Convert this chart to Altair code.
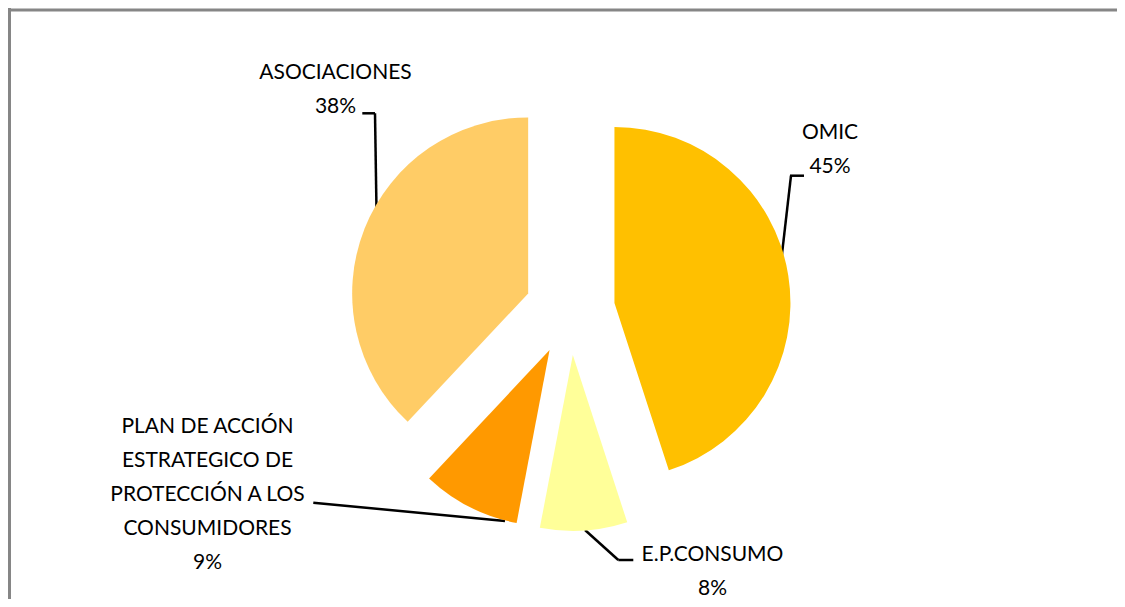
import altair as alt
import pandas as pd

# ---- data ----
categories = ["OMIC", "E.P.CONSUMO",
              "PLAN DE ACCIÓN\nESTRATEGICO DE\nPROTECCIÓN A LOS\nCONSUMIDORES",
              "ASOCIACIONES"]
values = [45, 8, 9, 38]

# ---- style / layout ----
colors = ["#FFC000", "#FFFF99", "#FF9900", "#FFCC66"]
W, H = 1109, 591
CX, CY = 562, 302
R = 176
EXPLODE = 45
label_x = [822, 704.5, 199.5, 327.5]
label_y = [131, 552.7, 425.3, 71.3]

leader_segments = pd.DataFrame({
    "x":  [354.3, 367.0, 782.0, 783.0, 305.3, 577.0, 610.3],
    "y":  [105.3, 105.3, 167.7, 167.7, 494.7, 522.0, 552.0],
    "x2": [367.0, 368.7, 796.0, 771.0, 497.0, 610.3, 625.3],
    "y2": [105.3, 215.3, 167.7, 272.0, 513.0, 552.0, 552.0],
})

df = pd.DataFrame({"category": categories, "value": values, "order": list(range(len(values)))})

arcs = alt.Chart(df).transform_window(
    cum="sum(value)", sort=[alt.SortField("order")], frame=[None, 0]
).transform_calculate(
    start="datum.cum - datum.value"
).transform_calculate(
    mid="(datum.cum - datum.value / 2) / 100 * 2 * PI"
).transform_calculate(
    cx=f"{CX} + {EXPLODE} * sin(datum.mid)"
).transform_calculate(
    cy=f"{CY} - {EXPLODE} * cos(datum.mid)"
).mark_arc(outerRadius=R, stroke=None).encode(
    x=alt.X("cx:Q", scale=None, axis=None),
    y=alt.Y("cy:Q", scale=None, axis=None),
    theta=alt.Theta("start:Q", scale=alt.Scale(domain=[0, 100], range=[0, 6.283185307179586]), stack=None),
    theta2="cum:Q",
    color=alt.Color("category:N", scale=alt.Scale(domain=categories, range=colors), legend=None),
)

lab_df = pd.DataFrame({"category": categories, "value": values, "lx": label_x, "ly": label_y})
labels = alt.Chart(lab_df).transform_calculate(
    label="datum.category + '\\n' + datum.value + '%'"
).mark_text(
    font="Lato", fontSize=21, lineBreak="\n", lineHeight=34,
    align="center", baseline="alphabetic", color="black"
).encode(
    x=alt.X("lx:Q", scale=None, axis=None),
    y=alt.Y("ly:Q", scale=None, axis=None),
    text="label:N",
)

leaders = alt.Chart(leader_segments).mark_rule(color="black", strokeWidth=2.5).encode(
    x=alt.X("x:Q", scale=None, axis=None),
    y=alt.Y("y:Q", scale=None, axis=None),
    x2="x2:Q",
    y2="y2:Q",
)

frame_df = pd.DataFrame({"x": [0, 1.5], "y": [2, 0], "x2": [W, 1.5], "y2": [2, H]})
frame = alt.Chart(frame_df).mark_rule(color="#868686", strokeWidth=3).encode(
    x=alt.X("x:Q", scale=None, axis=None),
    y=alt.Y("y:Q", scale=None, axis=None),
    x2="x2:Q",
    y2="y2:Q",
)

chart = alt.layer(frame, leaders, arcs, labels).properties(
    width=W, height=H, autosize="none", padding=0
).configure_view(stroke=None).resolve_scale(x="independent", y="independent")

chart.save("out.html", embed_options={"renderer": "svg", "actions": False})
